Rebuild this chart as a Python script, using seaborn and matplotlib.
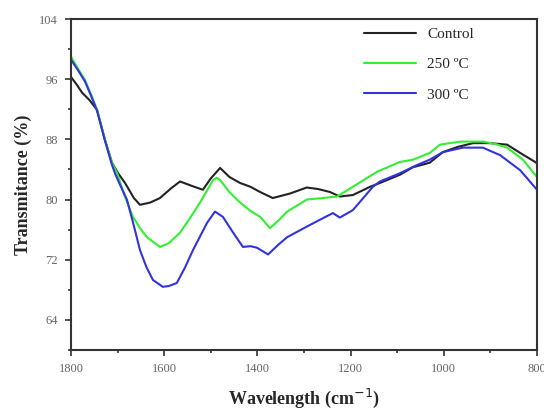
import pandas as pd
import matplotlib.pyplot as plt
import seaborn as sns
from matplotlib.ticker import MultipleLocator

# FTIR spectra (wavenumber cm-1, transmittance %)
control_x = [1800, 1788, 1776, 1760, 1744, 1727, 1712, 1699, 1684, 1665, 1652, 1630, 1609, 1585,
             1566, 1540, 1517, 1500, 1480, 1460, 1437, 1415, 1394, 1367, 1330, 1294, 1270, 1244,
             1223, 1195, 1158, 1137, 1094, 1066, 1030, 1002, 970, 937, 901, 864, 836, 804, 800]
control_y = [96.3, 95.3, 94.2, 93.2, 91.9, 87.9, 84.9, 83.5, 82.2, 80.2, 79.3, 79.6, 80.2, 81.5,
             82.4, 81.8, 81.3, 82.8, 84.2, 83.0, 82.2, 81.7, 81.0, 80.2, 80.8, 81.6, 81.4, 81.0,
             80.4, 80.6, 81.7, 82.2, 83.3, 84.3, 84.9, 86.3, 87.0, 87.5, 87.5, 87.3, 86.2, 85.0, 84.8]

t250_x = [1800, 1785, 1770, 1757, 1744, 1727, 1712, 1701, 1685, 1667, 1652, 1637, 1609, 1590,
          1566, 1545, 1523, 1495, 1487, 1480, 1460, 1437, 1415, 1394, 1373, 1355, 1336, 1294,
          1260, 1229, 1195, 1143, 1094, 1066, 1030, 1008, 965, 916, 890, 864, 830, 804, 800]
t250_y = [99.0, 97.4, 95.9, 94.0, 91.9, 87.9, 84.9, 83.5, 80.5, 77.7, 76.2, 75.0, 73.7, 74.2,
          75.6, 77.5, 79.6, 82.6, 82.9, 82.6, 81.0, 79.6, 78.5, 77.7, 76.2, 77.2, 78.4, 80.0,
          80.2, 80.4, 81.7, 83.7, 85.0, 85.3, 86.2, 87.3, 87.7, 87.7, 87.4, 86.9, 85.3, 83.3, 83.0]

t300_x = [1800, 1785, 1770, 1757, 1744, 1727, 1712, 1705, 1695, 1680, 1665, 1652, 1638, 1624,
          1603, 1590, 1573, 1555, 1538, 1508, 1491, 1474, 1452, 1431, 1415, 1401, 1377, 1355,
          1336, 1294, 1260, 1238, 1223, 1195, 1152, 1137, 1094, 1057, 1030, 1002, 959, 916,
          879, 836, 804, 800]
t300_y = [98.6, 97.2, 95.7, 93.8, 91.8, 87.8, 84.6, 83.4, 82.0, 80.0, 76.5, 73.3, 71.0, 69.3,
          68.4, 68.5, 68.9, 71.0, 73.3, 76.9, 78.4, 77.7, 75.6, 73.7, 73.8, 73.6, 72.7, 74.0,
          75.0, 76.4, 77.5, 78.2, 77.6, 78.6, 81.7, 82.4, 83.5, 84.6, 85.3, 86.3, 86.9, 86.9,
          85.9, 83.9, 81.6, 81.3]

labels = ["Control", "250 \u00baC", "300 \u00baC"]
colors = ["#222222", "#33ee33", "#3333dd"]

df = pd.concat([
    pd.DataFrame({"wn": control_x, "T": control_y, "sample": labels[0]}),
    pd.DataFrame({"wn": t250_x, "T": t250_y, "sample": labels[1]}),
    pd.DataFrame({"wn": t300_x, "T": t300_y, "sample": labels[2]}),
])

sns.set_style("ticks")
plt.rcParams["font.family"] = ["Liberation Serif", "DejaVu Serif"]

fig = plt.figure(figsize=(5.44, 4.09), dpi=100)
ax = fig.add_axes([0.1305, 0.1443, 0.8565, 0.8092])
sns.lineplot(data=df, x="wn", y="T", hue="sample", palette=colors, linewidth=1.5,
             estimator=None, sort=False, ax=ax)

ax.set_xlim(1800, 800)
ax.set_ylim(60, 104)
ax.xaxis.set_major_locator(MultipleLocator(200))
ax.xaxis.set_minor_locator(MultipleLocator(100))
ax.yaxis.set_minor_locator(MultipleLocator(4))
ax.set_yticks([64, 72, 80, 88, 96, 104])
ax.tick_params(which="both", direction="out", colors="#333333", labelcolor="#666666",
               labelsize=9, width=1.2)
ax.tick_params(which="major", length=4.5, pad=5)
ax.tick_params(which="minor", length=2.5)
for sp in ax.spines.values():
    sp.set_linewidth(1.5)
    sp.set_color("#333333")

ax.set_xlabel("Wavelength (cm$^{-1}$)", fontsize=13, fontweight="bold", labelpad=8)
ax.set_ylabel("Transmitance (%)", fontsize=13, fontweight="bold", labelpad=5)

ax.legend(frameon=False, loc="upper left", bbox_to_anchor=(0.6, 1.016), fontsize=11,
          handlelength=3.4, labelspacing=1.08, handletextpad=0.7)

fig.savefig("out.png", dpi=100)
